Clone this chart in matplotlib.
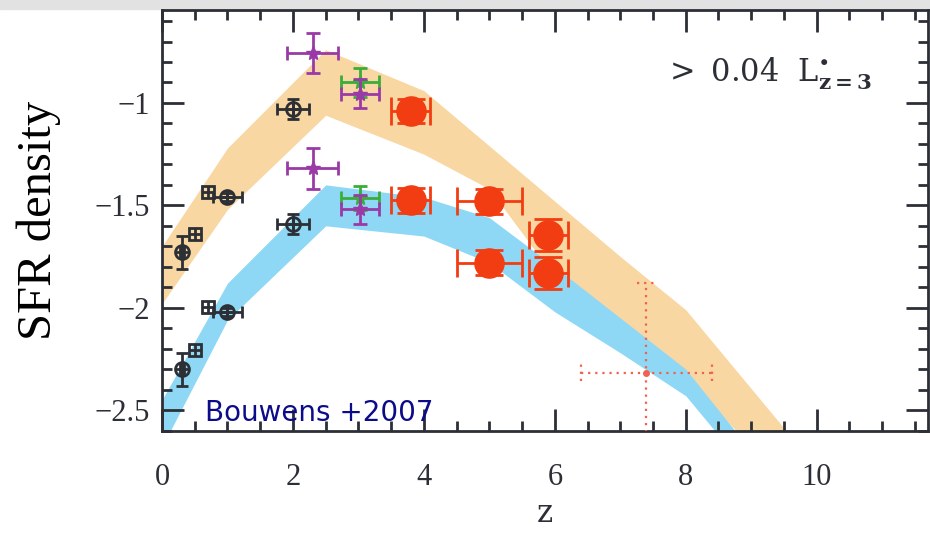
import matplotlib.pyplot as plt
from matplotlib.patches import Rectangle
from matplotlib.ticker import MultipleLocator

# model bands (z grid, upper/lower edges)
band_z = [0, 1, 2.5, 4, 5, 6, 7, 8, 10]
orange_hi = [-1.70, -1.22, -0.74, -0.94, -1.21, -1.48, -1.75, -2.01, -2.78]
orange_lo = [-1.98, -1.52, -1.06, -1.25, -1.42, -1.85, -2.10, -2.35, -3.00]
blue_hi = [-2.45, -1.88, -1.40, -1.46, -1.56, -1.80, -2.05, -2.30, -3.10]
blue_lo = [-2.68, -2.06, -1.60, -1.65, -1.78, -2.02, -2.22, -2.43, -3.20]

# black open circles
circ_z = [0.3, 1.0, 2.0, 0.3, 1.0, 2.0]
circ_v = [-1.73, -1.46, -1.03, -2.30, -2.02, -1.59]
circ_xerr = [0.03, 0.22, 0.25, 0.03, 0.22, 0.25]
circ_yerr = [0.08, 0.02, 0.05, 0.08, 0.02, 0.05]

# black open squares
sq_z = [0.5, 0.7, 0.5, 0.7]
sq_v = [-1.64, -1.435, -2.205, -1.995]

# purple points
pur_z = [2.3, 3.03, 2.3, 3.03]
pur_v = [-0.756, -0.955, -1.32, -1.52]
pur_xerr = [0.39, 0.29, 0.39, 0.29]
pur_yerr = [0.10, 0.07, 0.10, 0.07]

# green points
grn_z = [3.03, 3.03]
grn_v = [-0.90, -1.465]
grn_xerr = [0.29, 0.29]
grn_yerr = [0.07, 0.06]

# red filled circles
red_z = [3.8, 3.8, 5.0, 5.0, 5.9, 5.9]
red_v = [-1.04, -1.475, -1.48, -1.78, -1.645, -1.83]
red_xerr = [0.3, 0.3, 0.5, 0.5, 0.3, 0.3]
red_yerr = [0.06, 0.06, 0.06, 0.06, 0.08, 0.08]

# dotted point
dot_z = [7.4]
dot_v = [-2.317]
dot_xerr = [1.0]
dot_yerr_lo = [0.5]
dot_yerr_hi = [0.44]

ytick_vals = [-2.5, -2, -1.5, -1]
ytick_labels = ['\u22122.5', '\u22122', '\u22121.5', '\u22121']
xtick_vals = [0, 2, 4, 6, 8, 10]

ORANGE = '#f8d7a2'
BLUE = '#8ed8f6'
DARK = '#2c2f35'
PURPLE = '#9a3aa6'
GREEN = '#3aad3a'
RED = '#f23c12'
LRED = '#f2604f'

plt.rcParams['mathtext.fontset'] = 'dejavuserif'

fig = plt.figure(figsize=(9.3, 5.33), dpi=100)
ax = fig.add_axes([162 / 930, 1 - 431 / 533, (928 - 162) / 930, (431 - 10) / 533])
ax.set_axisbelow(False)

# grey strip above the frame
fig.patches.append(Rectangle((0, 1 - 9 / 533), 1, 9 / 533, transform=fig.transFigure,
                             color='#e2e2e2', zorder=-1))

ax.fill_between(band_z, orange_lo, orange_hi, color=ORANGE, lw=0, zorder=1)
ax.fill_between(band_z, blue_lo, blue_hi, color=BLUE, lw=0, zorder=1.2)

# black points
ax.errorbar(circ_z, circ_v, xerr=circ_xerr, yerr=circ_yerr, fmt='none',
            ecolor=DARK, elinewidth=2, capsize=4, capthick=2, zorder=4)
ax.plot(circ_z, circ_v, 'o', ms=10, mfc='none', mec=DARK, mew=2, zorder=4)
ax.plot(circ_z, circ_v, '+', ms=10, mew=2, color=DARK, zorder=4)
ax.plot(sq_z, sq_v, 's', ms=9, mfc='none', mec=DARK, mew=2, zorder=4)
ax.plot(sq_z, sq_v, '+', ms=9, mew=2, color=DARK, zorder=4)

# green and purple
ax.errorbar(grn_z, grn_v, xerr=grn_xerr, yerr=grn_yerr, fmt='*', ms=10,
            color=GREEN, elinewidth=2, capsize=5, capthick=2, zorder=4)
ax.errorbar(pur_z, pur_v, xerr=pur_xerr, yerr=pur_yerr, fmt='*', ms=10,
            color=PURPLE, elinewidth=2, capsize=5, capthick=2, zorder=5)

# red
ax.errorbar(red_z, red_v, xerr=red_xerr, yerr=red_yerr, fmt='o', ms=21,
            color=RED, elinewidth=2, capsize=10, capthick=2, zorder=6)

# dotted point
eb = ax.errorbar(dot_z, dot_v, xerr=dot_xerr, yerr=[dot_yerr_lo, dot_yerr_hi],
                 fmt='o', ms=4, color=LRED, elinewidth=1.6, capsize=0, zorder=3)
for lc in eb[2]:
    lc.set_linestyle((0, (1, 2.2)))
for z, v, xe, yh in zip(dot_z, dot_v, dot_xerr, dot_yerr_hi):
    ax.vlines([z - xe, z + xe], v - 0.04, v + 0.04, colors=LRED, lw=1.6,
              linestyles=(0, (1, 2.2)), zorder=3)
    ax.hlines(v + yh, z - 0.15, z + 0.15, colors=LRED, lw=1.6,
              linestyles=(0, (1, 2.2)), zorder=3)

ax.set_xlim(0, 11.7)
ax.set_ylim(-2.602, -0.546)
ax.set_xticks(xtick_vals)
ax.set_xticklabels([str(v) for v in xtick_vals])
ax.set_yticks(ytick_vals)
ax.set_yticklabels(ytick_labels)
ax.xaxis.set_minor_locator(MultipleLocator(0.5))
ax.yaxis.set_minor_locator(MultipleLocator(0.1))
ax.tick_params(which='both', direction='in', top=True, right=True, width=2,
               color=DARK, labelcolor=DARK, labelsize=22)
ax.tick_params(which='major', length=16)
ax.tick_params(which='minor', length=7)
ax.tick_params(axis='x', pad=23)
ax.tick_params(axis='y', pad=9)
for lab in ax.get_xticklabels() + ax.get_yticklabels():
    lab.set_family('Liberation Serif')
for sp in ax.spines.values():
    sp.set_linewidth(2)
    sp.set_color(DARK)

ax.set_ylabel('SFR density', family='Liberation Serif', fontsize=35,
              color='black', labelpad=24)
ax.set_xlabel('z', family='DejaVu Serif', fontsize=22, color=DARK, labelpad=4)

ax.text(7.66, -0.897, r'$>\ 0.04\ \ \mathrm{L}^{\bullet}_{\mathbf{z=3}}$',
        fontsize=22, color=DARK, va='baseline')
ax.text(0.66, -2.553, 'Bouwens +2007', fontsize=20, family='DejaVu Sans',
        color='#0c0c8a', va='baseline', zorder=7)

fig.savefig('out.png', dpi=100)
